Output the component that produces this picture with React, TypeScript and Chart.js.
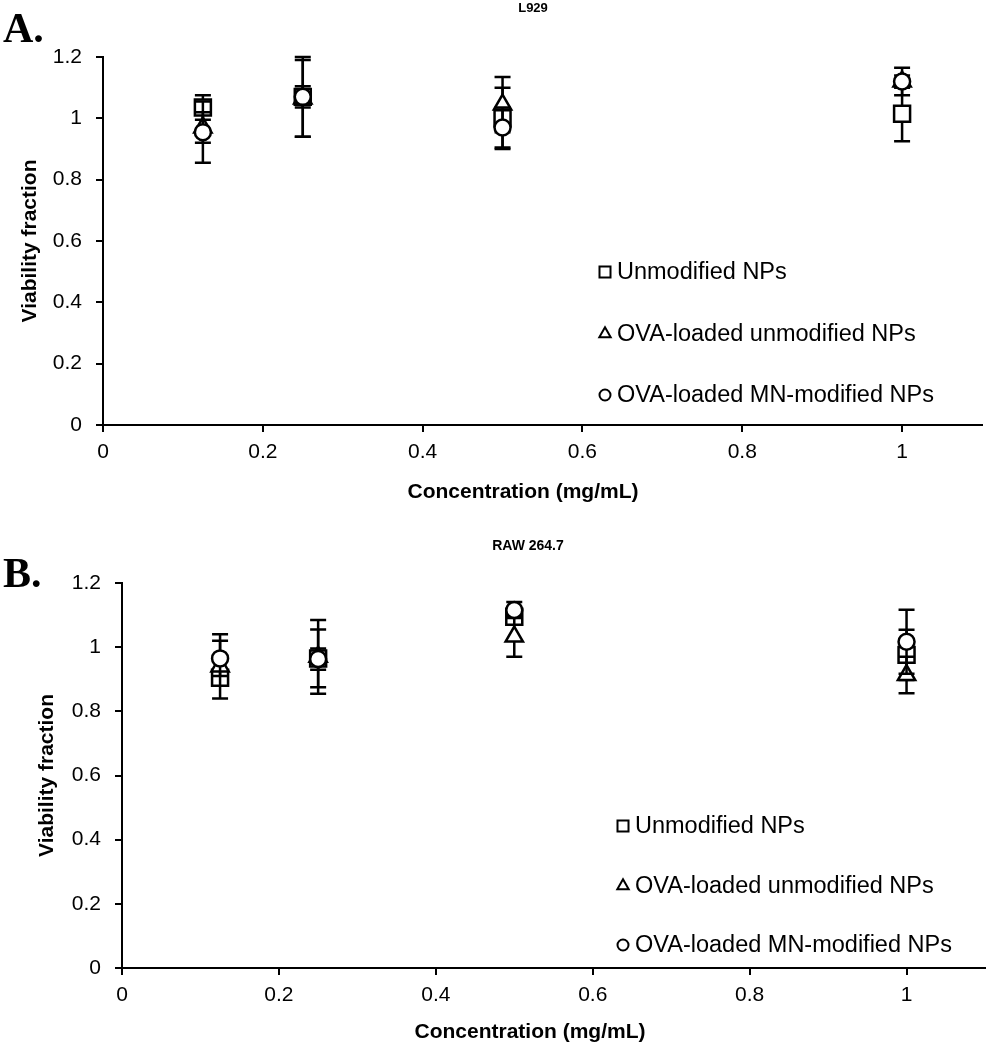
import React, { useEffect, useRef } from 'react';
import { Chart, registerables } from 'chart.js';

Chart.register(...registerables);

// ---------------- data ----------------
const concentrations = [0.125, 0.25, 0.5, 1];
const seriesLabels = ['Unmodified NPs', 'OVA-loaded unmodified NPs', 'OVA-loaded MN-modified NPs'];
const xTickValues = [0, 0.2, 0.4, 0.6, 0.8, 1];
const yTickValues = [0, 0.2, 0.4, 0.6, 0.8, 1, 1.2];
const panelTitles = ['L929', 'RAW 264.7'];
const xAxisTitle = 'Concentration (mg/mL)';
const yAxisTitle = 'Viability fraction';

// Panel A: L929
const l929Unmodified = [1.035, 1.07, 1.0, 1.015];
const l929UnmodifiedErr = [0.04, 0.035, 0.1, 0.09];
const l929OvaUnmodified = [0.97, 1.065, 1.045, 1.12];
const l929OvaUnmodifiedErr = [0.05, 0.125, 0.09, 0.02];
const l929OvaMN = [0.955, 1.07, 0.97, 1.12];
const l929OvaMNErr = [0.1, 0.13, 0.065, 0.045];

// Panel B: RAW 264.7
const rawUnmodified = [0.905, 0.965, 1.095, 0.976];
const rawUnmodifiedErr = [0.02, 0.09, 0.025, 0.078];
const rawOvaUnmodified = [0.94, 0.97, 1.033, 0.913];
const rawOvaUnmodifiedErr = [0.1, 0.115, 0.063, 0.057];
const rawOvaMN = [0.965, 0.963, 1.116, 1.017];
const rawOvaMNErr = [0.055, 0.033, 0.025, 0.1];

// ---------------- plugins ----------------
const FONT = '"Liberation Sans", Arial, Helvetica, sans-serif';

const errorBarPlugin = {
  id: 'errorBars',
  beforeDatasetDraw(chart: any, args: any, opts: any) {
    const ds: any = chart.data.datasets[args.index];
    const errs: number[] | undefined = ds.errors;
    if (!errs) return;
    const ys = chart.scales.y;
    const ctx = chart.ctx;
    const cw = opts.capHalf ?? 8;
    ctx.save();
    ctx.strokeStyle = '#000';
    ctx.lineWidth = opts.lineWidth ?? 2.5;
    args.meta.data.forEach((pt: any, i: number) => {
      const v = ds.data[i].y;
      const e = errs[i];
      const x = pt.x;
      const yT = ys.getPixelForValue(v + e);
      const yB = ys.getPixelForValue(v - e);
      ctx.beginPath();
      ctx.moveTo(x, yT);
      ctx.lineTo(x, yB);
      ctx.moveTo(x - cw, yT);
      ctx.lineTo(x + cw, yT);
      ctx.moveTo(x - cw, yB);
      ctx.lineTo(x + cw, yB);
      ctx.stroke();
    });
    ctx.restore();
  },
};

function drawMarker(ctx: CanvasRenderingContext2D, style: string, x: number, y: number, s: number) {
  ctx.beginPath();
  if (style === 'rect') {
    ctx.rect(x - s, y - s, 2 * s, 2 * s);
  } else if (style === 'triangle') {
    const h = s * 1.15;
    ctx.moveTo(x, y - h);
    ctx.lineTo(x + h * 0.9, y + h * 0.6);
    ctx.lineTo(x - h * 0.9, y + h * 0.6);
    ctx.closePath();
  } else {
    ctx.arc(x, y, s, 0, Math.PI * 2);
  }
  ctx.fillStyle = '#fff';
  ctx.fill();
  ctx.stroke();
}

const insideLegendPlugin = {
  id: 'insideLegend',
  afterDraw(chart: any, _args: any, opts: any) {
    const ctx = chart.ctx;
    ctx.save();
    ctx.strokeStyle = '#000';
    ctx.lineWidth = 2;
    ctx.font = `${opts.fontSize}px ${FONT}`;
    ctx.textBaseline = 'middle';
    ctx.textAlign = 'left';
    const order = [...chart.data.datasets].sort((a: any, b: any) => a.legendIndex - b.legendIndex);
    order.forEach((ds: any, i: number) => {
      const y = opts.y + i * opts.dy;
      drawMarker(ctx, ds.pointStyle, opts.x, y, opts.markerSize);
      ctx.fillStyle = '#000';
      ctx.fillText(ds.label, opts.x + opts.textGap, y + 1);
    });
    ctx.restore();
  },
};

// chart title and x-axis title, placed where the original figure has them
const panelTextPlugin = {
  id: 'panelText',
  afterDraw(chart: any, _args: any, opts: any) {
    const ctx = chart.ctx;
    ctx.save();
    ctx.fillStyle = '#000';
    ctx.textAlign = 'center';
    ctx.textBaseline = 'middle';
    ctx.font = `bold ${opts.titleSize}px ${FONT}`;
    ctx.fillText(opts.title, opts.titleX, opts.titleY);
    ctx.font = `bold ${opts.xTitleSize}px ${FONT}`;
    ctx.fillText(opts.xTitle, opts.xTitleX, opts.xTitleY);
    ctx.restore();
  },
};

// ---------------- config builder ----------------
type PanelLayout = {
  width: number;
  height: number;
  titleSize: number;
  titleX: number;
  titleY: number;
  plotTop: number;
  yAxisWidth: number;
  xAxisHeight: number;
  yTitlePad: number;
  xTitleX: number;
  xTitleY: number;
  rightPad: number;
  legendX: number;
  legendY: number;
  legendDy: number;
};

function buildConfig(title: string, values: number[][], errors: number[][], L: PanelLayout): any {
  const styles = ['rect', 'triangle', 'circle'];
  const radii = [11.3, 10, 8];
  const orders = [2, 1, 0];
  const datasets = values.map((vals, si) => ({
    label: seriesLabels[si],
    legendIndex: si,
    data: concentrations.map((c, i) => ({ x: c, y: vals[i] })),
    errors: errors[si],
    pointStyle: styles[si],
    pointRadius: radii[si],
    pointHoverRadius: radii[si],
    pointBorderWidth: 2.5,
    pointBorderColor: '#000',
    pointBackgroundColor: '#fff',
    borderColor: '#000',
    backgroundColor: '#fff',
    showLine: false,
    order: orders[si],
    clip: false,
  }));

  const axisCommon = {
    border: { display: true, color: '#000', width: 2 },
    grid: {
      display: true,
      drawOnChartArea: false,
      drawTicks: true,
      tickLength: 7,
      color: '#000',
      lineWidth: 2,
    },
  };

  return {
    type: 'scatter',
    data: { datasets },
    plugins: [errorBarPlugin, insideLegendPlugin, panelTextPlugin],
    options: {
      responsive: false,
      animation: false,
      events: [],
      layout: {
        autoPadding: false,
        padding: { left: 0, right: L.rightPad, top: L.plotTop, bottom: 0 },
      },
      plugins: {
        legend: { display: false },
        tooltip: { enabled: false },
        title: { display: false },
        errorBars: { lineWidth: 2.5, capHalf: 8 },
        insideLegend: {
          x: L.legendX,
          y: L.legendY,
          dy: L.legendDy,
          markerSize: 5.5,
          textGap: 12,
          fontSize: 23.5,
        },
        panelText: {
          title,
          titleSize: L.titleSize,
          titleX: L.titleX,
          titleY: L.titleY,
          xTitle: xAxisTitle,
          xTitleSize: 21,
          xTitleX: L.xTitleX,
          xTitleY: L.xTitleY,
        },
      },
      scales: {
        x: {
          type: 'linear',
          min: 0,
          max: 1.1,
          ...axisCommon,
          afterFit: (s: any) => {
            s.height = L.xAxisHeight;
            s.paddingLeft = 0;
            s.paddingRight = 0;
          },
          afterBuildTicks: (s: any) => {
            s.ticks = xTickValues.map((v) => ({ value: v }));
          },
          ticks: {
            color: '#000',
            padding: 7.4,
            font: { family: FONT, size: 21 },
            callback: (v: number) => String(Math.round(v * 10) / 10),
          },
          title: { display: false },
        },
        y: {
          type: 'linear',
          min: 0,
          max: 1.2,
          ...axisCommon,
          afterFit: (s: any) => {
            s.width = L.yAxisWidth;
            s.paddingTop = 0;
            s.paddingBottom = 0;
          },
          afterBuildTicks: (s: any) => {
            s.ticks = yTickValues.map((v) => ({ value: v }));
          },
          ticks: {
            color: '#000',
            padding: 14,
            font: { family: FONT, size: 21 },
            callback: (v: number) => String(Math.round(v * 10) / 10),
          },
          title: {
            display: true,
            text: yAxisTitle,
            color: '#000',
            font: { family: FONT, size: 21, weight: 'bold' },
            padding: { top: L.yTitlePad, bottom: 0 },
          },
        },
      },
    },
  };
}

const layoutA: PanelLayout = {
  width: 987,
  height: 520,
  titleSize: 13,
  titleX: 533,
  titleY: 8,
  plotTop: 57,
  yAxisWidth: 103,
  xAxisHeight: 95,
  yTitlePad: 17.4,
  xTitleX: 523,
  xTitleY: 492,
  rightPad: 5,
  legendX: 605,
  legendY: 272,
  legendDy: 61.5,
};

const layoutB: PanelLayout = {
  width: 987,
  height: 530,
  titleSize: 14,
  titleX: 528,
  titleY: 26,
  plotTop: 63,
  yAxisWidth: 122,
  xAxisHeight: 82,
  yTitlePad: 34.4,
  xTitleX: 530,
  xTitleY: 512,
  rightPad: 2,
  legendX: 623,
  legendY: 306,
  legendDy: 59.5,
};

function Panel({ top, layout, makeConfig }: { top: number; layout: PanelLayout; makeConfig: () => any }) {
  const ref = useRef<HTMLCanvasElement>(null);
  useEffect(() => {
    const chart = new Chart(ref.current as HTMLCanvasElement, makeConfig());
    return () => chart.destroy();
  }, []);
  return (
    <div style={{ position: 'absolute', left: 0, top, width: layout.width, height: layout.height }}>
      <canvas
        ref={ref}
        width={layout.width}
        height={layout.height}
        style={{ display: 'block', width: layout.width, height: layout.height }}
      />
    </div>
  );
}

const panelLetter: React.CSSProperties = {
  position: 'absolute',
  left: 3,
  fontFamily: '"Liberation Serif", "Times New Roman", serif',
  fontWeight: 'bold',
  fontSize: 42,
  lineHeight: '42px',
  color: '#000',
  margin: 0,
};

export default function App() {
  return (
    <div style={{ position: 'absolute', left: 0, top: 0, width: 987, height: 1050, background: '#fff' }}>
      <Panel
        top={0}
        layout={layoutA}
        makeConfig={() =>
          buildConfig(
            panelTitles[0],
            [l929Unmodified, l929OvaUnmodified, l929OvaMN],
            [l929UnmodifiedErr, l929OvaUnmodifiedErr, l929OvaMNErr],
            layoutA
          )
        }
      />
      <Panel
        top={520}
        layout={layoutB}
        makeConfig={() =>
          buildConfig(
            panelTitles[1],
            [rawUnmodified, rawOvaUnmodified, rawOvaMN],
            [rawUnmodifiedErr, rawOvaUnmodifiedErr, rawOvaMNErr],
            layoutB
          )
        }
      />
      <div style={{ ...panelLetter, top: 7 }}>A.</div>
      <div style={{ ...panelLetter, top: 552 }}>B.</div>
    </div>
  );
}
